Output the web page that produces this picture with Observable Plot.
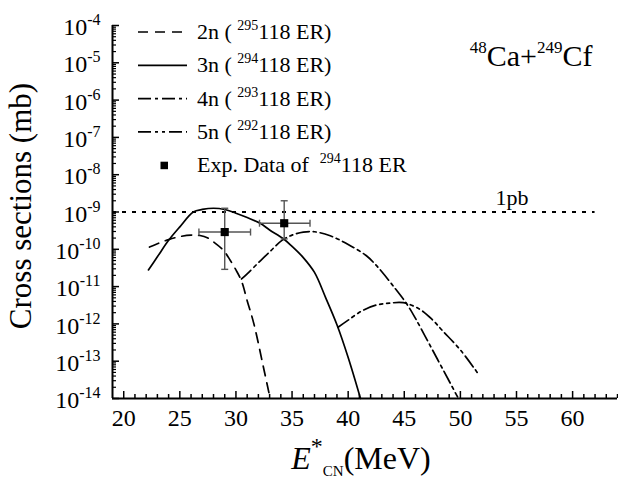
<!DOCTYPE html>
<html><head><meta charset="utf-8">
<script src="https://cdn.jsdelivr.net/npm/d3@7"></script>
<script src="https://cdn.jsdelivr.net/npm/@observablehq/plot@0.6"></script>
<style>
html,body{margin:0;padding:0;background:#fff;}
#chart svg{display:block;}
</style></head><body><div id="chart"></div>
<script>
// ---- data ----
const energy2n = [22.3, 23, 24, 25, 26, 26.8, 27.5, 28, 28.9, 29.5, 30, 30.5, 31, 31.6, 32.45, 33.05];
const sigma2n  = [1.15e-10, 1.41e-10, 1.82e-10, 2.19e-10, 2.40e-10, 2.34e-10, 2.0e-10, 1.58e-10, 9.3e-11, 5.0e-11, 2.8e-11, 1.4e-11, 4.2e-12, 1.0e-12, 6.9e-14, 1.0e-14];
const energy3n = [22.2, 23, 24, 25, 26.2, 27, 28, 29, 30, 31, 32.2, 33, 34.2, 35, 36, 37, 38, 39, 40, 41.1];
const sigma3n  = [2.8e-11, 6.3e-11, 1.74e-10, 4.0e-10, 1.0e-9, 1.17e-9, 1.26e-9, 1.17e-9, 9.3e-10, 7.1e-10, 4.9e-10, 3.3e-10, 1.95e-10, 1.2e-10, 6.0e-11, 2.4e-11, 5.0e-12, 9.5e-13, 1.26e-13, 1.0e-14];
const energy4n = [30.5, 31, 32.2, 33, 34.1, 35, 36, 37, 38.4, 40, 41.6, 42.4, 43, 44, 45.2, 46, 47.2, 48.5, 49.75];
const sigma4n  = [1.6e-11, 2.2e-11, 5.0e-11, 8.5e-11, 1.74e-10, 2.4e-10, 2.9e-10, 2.95e-10, 2.3e-10, 1.35e-10, 6.8e-11, 4.0e-11, 2.5e-11, 1.05e-11, 3.5e-12, 1.4e-12, 3.0e-13, 5.6e-14, 1.1e-14];
const energy5n = [39.1, 40, 41.3, 42.5, 43.7, 44.9, 46.35, 47.5, 48.4, 50, 51.5];
const sigma5n  = [8.1e-13, 1.26e-12, 2.3e-12, 3.2e-12, 3.6e-12, 3.7e-12, 2.5e-12, 1.3e-12, 6.6e-13, 2.0e-13, 5.0e-14];
const expEnergy = [29.0, 34.3];
const expSigma  = [2.9e-10, 5.0e-10];
const expEnergyLow  = [26.7, 32.1];
const expEnergyHigh = [31.3, 36.6];
const expSigmaLow   = [2.9e-11, 1.9e-10];
const expSigmaHigh  = [1.26e-9, 2.0e-9];
const seriesLabels = ["2n ( ^{295}118 ER)", "3n ( ^{294}118 ER)", "4n ( ^{293}118 ER)", "5n ( ^{292}118 ER)", "Exp. Data of  ^{294}118 ER"];
const xTicks = [20, 25, 30, 35, 40, 45, 50, 55, 60];
const yTicks = [1e-14, 1e-13, 1e-12, 1e-11, 1e-10, 1e-9, 1e-8, 1e-7, 1e-6, 1e-5, 1e-4];
const xDomain = [19, 64];
const yDomain = [1e-14, 1e-4];
const refLineValue = [1e-9];
const refLineEnd = 62;
const refLabelText = ["1pb"];
const refLabelX = [54.6];
const titleText = ["^{48}Ca+^{249}Cf"];
const xLabelText = ["~{E}^{*}_{CN}(MeV)"];
const yLabelText = ["Cross sections (mb)"];

// ---- build ----
const FONT = "Liberation Serif, DejaVu Serif, serif";
const dashes = ["10,7", null, "13,4,3,4", "13,4,3,4,3,4"];
const curves = [[energy2n, sigma2n], [energy3n, sigma3n], [energy4n, sigma4n], [energy5n, sigma5n]];
const exp = expEnergy.map((e, i) => ({e, s: expSigma[i], elo: expEnergyLow[i], ehi: expEnergyHigh[i], slo: expSigmaLow[i], shi: expSigmaHigh[i]}));
const minorX = d3.range(xDomain[0] + 1, xDomain[1] + 1).filter(v => v % 5 !== 0);
const minorY = [];
for (let e = -14; e < -4; e++) for (let k = 2; k <= 9; k++) minorY.push(k * Math.pow(10, e));

const capH = {draw(ctx, size) { const r = Math.sqrt(size / Math.PI); ctx.moveTo(-r, 0); ctx.lineTo(r, 0); }};
const capV = {draw(ctx, size) { const r = Math.sqrt(size / Math.PI); ctx.moveTo(0, -r); ctx.lineTo(0, r); }};
const errColor = "#555";

const chart = Plot.plot({
  width: 618, height: 479,
  marginLeft: 112, marginRight: 1, marginTop: 25, marginBottom: 81,
  x: {domain: xDomain, label: null},
  y: {type: "log", domain: yDomain, label: null},
  style: {background: "white", color: "black"},
  marks: [
    Plot.ruleY(refLineValue, {x1: xDomain[0], x2: refLineEnd, stroke: "black", strokeWidth: 2, strokeDasharray: "4,6"}),
    Plot.text(refLabelText, {x: refLabelX, y: refLineValue, text: d => d, fontSize: 22, lineAnchor: "bottom", dy: -7}),
    ...curves.map(([xs, ys], k) => Plot.line(xs.map((x, i) => ({x, y: ys[i]})), {x: "x", y: "y", stroke: "black", strokeWidth: 1.7, strokeDasharray: dashes[k], curve: "catmull-rom"})),
    Plot.link(exp, {x1: "elo", x2: "ehi", y1: "s", y2: "s", stroke: errColor, strokeWidth: 1.4}),
    Plot.link(exp, {x1: "e", x2: "e", y1: "slo", y2: "shi", stroke: errColor, strokeWidth: 1.4}),
    Plot.dot(exp, {x: "e", y: "shi", symbol: capH, r: 3.5, stroke: errColor, strokeWidth: 1.4, fill: "none"}),
    Plot.dot(exp, {x: "e", y: "slo", symbol: capH, r: 3.5, stroke: errColor, strokeWidth: 1.4, fill: "none"}),
    Plot.dot(exp, {x: "elo", y: "s", symbol: capV, r: 3.5, stroke: errColor, strokeWidth: 1.4, fill: "none"}),
    Plot.dot(exp, {x: "ehi", y: "s", symbol: capV, r: 3.5, stroke: errColor, strokeWidth: 1.4, fill: "none"}),
    Plot.dot(exp, {x: "e", y: "s", symbol: "square", r: 4.6, fill: "black", stroke: "none"}),
    Plot.ruleX([xDomain[0]], {stroke: "black", strokeWidth: 2}),
    Plot.ruleY([yDomain[0]], {stroke: "black", strokeWidth: 2}),
    Plot.axisX(xTicks, {tickSize: -7, tickFormat: () => "", label: null, strokeWidth: 1.5}),
    Plot.axisX(minorX, {tickSize: -4, tickFormat: () => "", label: null, strokeWidth: 1.5}),
    Plot.axisX(xTicks, {tickSize: 0, tickPadding: 10, fontSize: 24, label: null}),
    Plot.axisY(yTicks, {tickSize: -7, tickFormat: () => "", label: null, strokeWidth: 1.5}),
    Plot.axisY(minorY, {tickSize: -4, tickFormat: () => "", label: null, strokeWidth: 1.2}),
    Plot.axisY(yTicks, {tickSize: 0, tickPadding: 12, dy: 2, fontSize: 24, label: null,
      tickFormat: d => `10^{${Math.round(Math.log10(d))}}`}),
    Plot.text(titleText, {frameAnchor: "top-right", text: d => d, textAnchor: "end", lineAnchor: "bottom", dx: -25, dy: 40, fontSize: 30}),
    Plot.text(xLabelText, {frameAnchor: "bottom", text: d => d, textAnchor: "middle", lineAnchor: "bottom", dy: 70, dx: -4, fontSize: 32}),
    Plot.text(yLabelText, {frameAnchor: "left", text: d => d, textAnchor: "middle", rotate: -90, dx: -91, dy: -6, fontSize: 31})
  ]
});
document.getElementById("chart").appendChild(chart);

function rich(el, o) {
  const src = el.textContent;
  if (!/[\^_~]\{/.test(src)) return;
  const re = /([\^_~])\{([^}]*)\}|([^\^_~]+)/g;
  while (el.firstChild) el.removeChild(el.firstChild);
  let shift = 0, m;
  while ((m = re.exec(src))) {
    const t = document.createElementNS("http://www.w3.org/2000/svg", "tspan");
    let target = 0;
    if (m[1] === "^") { target = o.supDy; t.setAttribute("font-size", o.supSize); t.textContent = m[2]; }
    else if (m[1] === "_") { target = o.subDy; t.setAttribute("font-size", o.subSize); t.textContent = m[2]; }
    else if (m[1] === "~") { t.setAttribute("font-style", "italic"); t.textContent = m[2]; }
    else t.textContent = m[3];
    if (target !== shift) { t.setAttribute("dy", target - shift); shift = target; }
    el.appendChild(t);
  }
}
const svg = d3.select(chart);
svg.style("font-family", FONT).attr("font-family", FONT);
svg.selectAll("text").style("font-family", FONT);
svg.selectAll("text").each(function() {
  const s = this.textContent;
  if (s.startsWith("10^")) rich(this, {supSize: 16, supDy: -10});
  else if (s.includes("Ca+")) rich(this, {supSize: 17, supDy: -13});
  else if (s.includes("MeV")) rich(this, {supSize: 24, supDy: -15, subSize: 15, subDy: 7});
});

// legend (inside plot, top-left)
const lg = svg.append("g").attr("font-size", 22).attr("fill", "black").attr("text-anchor", "start").style("font-family", FONT);
seriesLabels.forEach((lab, i) => {
  const y = 32 + i * 33.3;
  if (i < 4) {
    const ln = lg.append("line").attr("x1", 138).attr("x2", 187).attr("y1", y).attr("y2", y)
      .attr("stroke", "black").attr("stroke-width", 1.7);
    if (dashes[i]) ln.attr("stroke-dasharray", dashes[i]);
  } else {
    lg.append("rect").attr("x", 160.5).attr("y", y - 3.5).attr("width", 7.5).attr("height", 7.5).attr("fill", "black");
  }
  const t = lg.append("text").attr("x", 197).attr("y", y + 7).attr("text-anchor", "start").style("white-space", "pre").style("font-family", FONT).text(lab);
  rich(t.node(), {supSize: 14, supDy: -9});
});
</script></body></html>
